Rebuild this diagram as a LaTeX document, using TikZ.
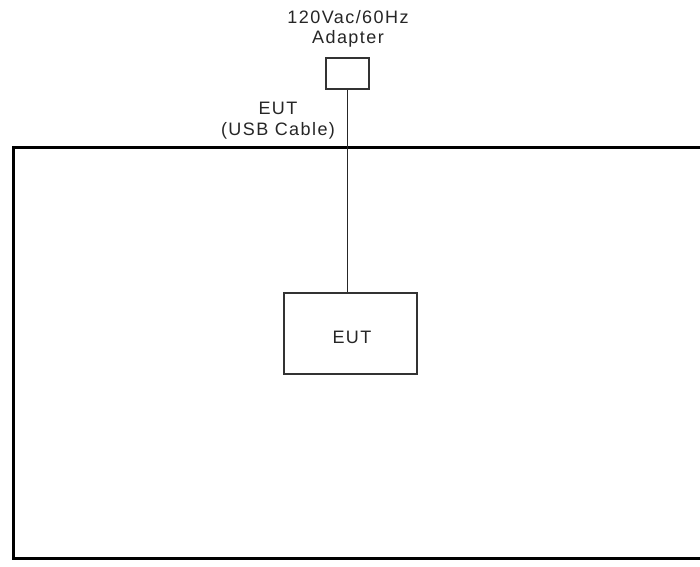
\documentclass[tikz,border=0pt]{standalone}
\usepackage{fontspec}
\setmainfont{Liberation Sans}[LetterSpace=8]
\begin{document}
\begin{tikzpicture}[x=1pt,y=-1pt,
  lbl/.style={inner sep=0pt,font=\fontsize{18}{20}\selectfont,text=black!85},
  thinbox/.style={draw=black!80,line width=1.3pt,inner sep=0pt},
  wire/.style={draw=black!85,line width=1pt},
  frame/.style={draw=black,line width=3pt}]
\useasboundingbox (0,0) rectangle (700,566);
\fill[white] (0,0) rectangle (700,566);
% enclosure (open to the right)
\draw[frame] (702,147) -- (13,147) -- (13,558) -- (702,558);
% adapter
\node[thinbox,minimum width=43pt,minimum height=31pt] (adapter) at (347.5,73.5) {};
\node[lbl] (adtxt1) at (348,17) {120Vac/60Hz};
\node[lbl] (adtxt2) at (348,39) {Adapter};
% EUT box
\node[thinbox,minimum width=133pt,minimum height=81pt] (eut) at (350.5,333.5) {};
\node[lbl] (euttxt) at (352,337) {EUT};
% cable labels
\node[lbl] (cab1) at (278,108) {EUT};
\node[lbl] (cab2) at (278,131) {(USB Cable)};
% cable
\coordinate (cabend) at (adapter.south |- eut.north);
\draw[wire] (adapter.south) -- (cabend);
\end{tikzpicture}
\end{document}
